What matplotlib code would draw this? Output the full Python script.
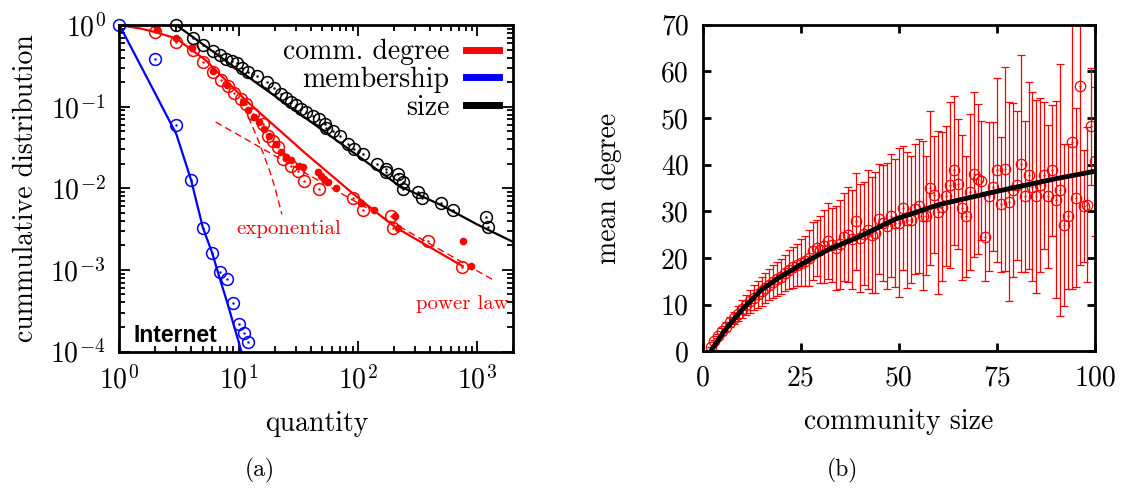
import numpy as np
import matplotlib
matplotlib.use('Agg')
import matplotlib.pyplot as plt
from matplotlib.lines import Line2D

plt.rcParams['font.family'] = ['cmr10', 'DejaVu Serif']
plt.rcParams['mathtext.fontset'] = 'cm'
plt.rcParams['axes.unicode_minus'] = False

# ---- panel (a): cumulative distributions (Internet) ----
memb_x = [1, 2, 3, 4, 5, 6, 7, 8, 9, 10, 11, 12]
memb_y = [1, 0.38, 0.059, 0.0126, 0.0033, 0.0016, 0.00094, 0.00078, 0.00039, 0.00022, 0.00017, 0.00013]
memb_fit_x = [1, 2, 3, 4, 5, 6, 7, 8, 9, 10, 10.5]
memb_fit_y = [1, 0.144, 0.046, 0.0124, 0.0033, 0.0016, 0.00075, 0.0004, 0.00022, 0.00013, 0.0001]

size_x = [3, 4.1, 5.06, 6.06, 7, 7.8, 8.8, 9.6, 10.7, 12, 14.2, 17.3, 19.9, 22.6, 25, 27.5,
          30.3, 33.3, 36.7, 41.7, 47.5, 53.3, 54, 62, 70.8, 82, 93, 110, 144, 170, 172, 215,
          222, 237, 240, 316, 344, 497, 622, 1186, 1223]
size_y = [1.0, 0.70, 0.57, 0.48, 0.43, 0.39, 0.36, 0.34, 0.30, 0.27, 0.235, 0.203, 0.171, 0.144,
          0.129, 0.114, 0.104, 0.094, 0.086, 0.078, 0.071, 0.062, 0.055, 0.05, 0.044, 0.035, 0.030,
          0.026, 0.020, 0.0173, 0.0157, 0.015, 0.013, 0.0118, 0.0098, 0.0089, 0.0077, 0.0067,
          0.0055, 0.0045, 0.0034]
size_fit_x = [3, 10, 30, 100, 222, 500, 1000, 2000]
size_fit_y = [1.0, 0.28, 0.089, 0.025, 0.0107, 0.0062, 0.0036, 0.0022]

deg_x = [1, 2, 3, 4.1, 5.06, 6.06, 7.1, 8.1, 9.2, 10.5, 11.5, 13.1, 15.9, 17.5, 19.3, 21.2,
         23.4, 27.5, 31.2, 35.5, 47.5, 90, 110, 189, 195, 384, 745]
deg_y = [1, 0.83, 0.62, 0.49, 0.354, 0.267, 0.21, 0.178, 0.147, 0.125, 0.107, 0.082, 0.062,
         0.044, 0.0385, 0.032, 0.0229, 0.0189, 0.0164, 0.0124, 0.0098, 0.0077, 0.0055, 0.0046,
         0.0033, 0.00226, 0.00108]
deg2_x = [2.05, 3, 4.07, 6.06, 7.9, 10.8, 11.9, 13.3, 14.9, 16.4, 18.1, 20.6, 22.6, 25, 27.5,
          32.3, 34.4, 45.9, 49, 52.3, 55.7, 65.5, 106, 137, 206, 215, 755, 887]
deg2_y = [0.885, 0.70, 0.52, 0.275, 0.183, 0.114, 0.09, 0.074, 0.065, 0.054, 0.044, 0.035,
          0.0276, 0.024, 0.022, 0.0189, 0.0184, 0.0157, 0.0143, 0.013, 0.0118, 0.01, 0.0067,
          0.0055, 0.0046, 0.0033, 0.00226, 0.00111]
deg_fit_x = [1, 1.5, 2, 3, 5.3, 11.5, 36.7, 90, 161, 208, 400, 755]
deg_fit_y = [1, 0.91, 0.82, 0.686, 0.37, 0.119, 0.0264, 0.0087, 0.0044, 0.0033, 0.0019, 0.00111]

pow_x = [6.4, 1346]
pow_y = [0.065, 0.00076]
exp_x = [12, 14, 16, 18, 20, 23]
exp_y = [0.075, 0.045, 0.027, 0.017, 0.0105, 0.0048]

# ---- panel (b): mean degree vs community size ----
comm_size = list(range(2, 101))
mean_deg = [1.0, 2.2, 3.3, 4.3, 5.3, 6.3, 7.2, 8.1, 9.0, 9.9, 10.7, 11.5, 12.2, 12.9, 13.6,
            14.3, 14.9, 15.5, 16.0, 16.8, 17.5, 18.0, 18.5, 19.0, 19.3, 20.0, 21.5, 22.2, 21.8,
            22.5, 23.6, 22.8, 22.2, 22.9, 24.5, 25.0, 24.0, 27.9, 24.3, 25.2, 26.1, 25.0, 25.4,
            28.4, 27.5, 26.8, 29.1, 27.5, 27.6, 30.7, 28.2, 28.2, 30.5, 31.1, 29.1, 29.1, 35.0,
            33.6, 29.8, 31.0, 33.2, 35.7, 38.8, 35.9, 30.8, 28.9, 34.2, 37.9, 37.0, 36.6, 24.6,
            33.2, 35.3, 38.8, 31.5, 39.1, 32.1, 34.6, 35.6, 40.2, 33.2, 37.7, 35.3, 33.2, 35.6,
            37.7, 33.2, 38.8, 32.5, 34.6, 27.1, 28.9, 44.8, 32.9, 56.8, 31.2, 31.4, 48.2, 40.7]
std_deg = [0, 0.3, 0.5, 0.7, 0.9, 1.1, 1.3, 1.6, 1.9, 2.2, 2.5, 2.7, 2.9, 3.1, 3.2, 3.4, 3.5,
           3.6, 3.8, 3.9, 4.2, 4.4, 4.6, 5.0, 5.4, 6.0, 6.3, 6.0, 7.2, 7.8, 8.2, 8.0, 9.0, 9.5,
           9.4, 10.2, 10.6, 10.4, 11.6, 11.0, 12.8, 12.4, 13.0, 11.8, 12.4, 13.5, 13.1, 13.8,
           16.0, 13.3, 14.6, 13.6, 14.0, 14.3, 16.0, 12.8, 16.4, 12.5, 17.5, 16.0, 15.0, 17.8,
           16.0, 13.9, 15.6, 13.0, 16.7, 17.7, 16.1, 12.7, 9.5, 15.9, 13.9, 19.7, 14.5, 21.8,
           21.4, 18.7, 16.0, 23.3, 16.2, 20.0, 20.3, 20.7, 18.6, 15.7, 15.4, 14.0, 21.1, 27.0,
           17.4, 15.5, 31.4, 19.2, 38.2, 12.0, 16.6, 12.5, 16.0]
fit_b_x = [2.0, 5, 6.5, 10, 15, 19.3, 25, 32, 40, 49, 60, 75, 90, 100]
fit_b_y = [0, 3.7, 5.4, 8.9, 13.2, 15.7, 18.6, 21.8, 24.6, 28.3, 31.4, 34.3, 37.0, 38.6]

fig = plt.figure(figsize=(11.25, 4.93), dpi=100)
ax1 = fig.add_axes([0.1062, 0.287, 0.350, 0.662])
ax2 = fig.add_axes([0.6246, 0.2873, 0.349, 0.6627])

RED, BLUE = '#ff0000', '#0000ff'
ms_c = 8.5

# fitted / guide lines
ax1.plot(deg_fit_x, deg_fit_y, color=RED, lw=1.6)
ax1.plot(memb_fit_x, memb_fit_y, color=BLUE, lw=1.6)
ax1.plot(size_fit_x, size_fit_y, color='k', lw=1.6)
ax1.plot(pow_x, pow_y, color=RED, lw=1.0, ls=(0, (5, 3)))
ax1.plot(exp_x, exp_y, color=RED, lw=1.0, ls=(0, (5, 3)))

# data points (circles with a dot in the middle)
ax1.plot(deg_x, deg_y, 'o', mfc='none', mec=RED, ms=ms_c, mew=1.1)
ax1.plot(deg_x, deg_y, '.', color=RED, ms=1.5)
ax1.plot(deg2_x, deg2_y, 'o', color=RED, ms=4.5)
ax1.plot(memb_x, memb_y, 'o', mfc='none', mec=BLUE, ms=ms_c, mew=1.1, clip_on=False)
ax1.plot(memb_x, memb_y, '.', color=BLUE, ms=1.5)
ax1.plot(size_x, size_y, 'o', mfc='none', mec='k', ms=ms_c, mew=1.1, clip_on=False)
ax1.plot(size_x, size_y, '.', color='k', ms=1.5)

ax1.set_xscale('log')
ax1.set_yscale('log')
ax1.set_xlim(1, 2000)
ax1.set_ylim(1e-4, 1)
ax1.set_xticks([1, 10, 100, 1000])
ax1.set_xticklabels(['$10^{0}$', '$10^{1}$', '$10^{2}$', '$10^{3}$'])
ax1.set_yticks([1e-4, 1e-3, 1e-2, 1e-1, 1])
ax1.set_yticklabels(['$10^{-4}$', '$10^{-3}$', '$10^{-2}$', '$10^{-1}$', '$10^{0}$'])
ax1.tick_params(which='both', direction='in', top=True, right=True, labelsize=20, width=1.3)
ax1.tick_params(which='major', length=8)
ax1.tick_params(which='minor', length=4)
ax1.tick_params(axis='x', which='major', pad=10)
ax1.tick_params(axis='y', which='major', pad=10)
ax1.set_xlabel('quantity', fontsize=20, labelpad=12)
ax1.set_ylabel('cummulative distribution', fontsize=20, labelpad=8)

handles = [Line2D([], [], color=RED, lw=5), Line2D([], [], color=BLUE, lw=5),
           Line2D([], [], color='k', lw=5)]
ax1.legend(handles, ['comm. degree', 'membership', 'size'], loc='upper right',
           frameon=False, markerfirst=False, fontsize=20, handlelength=1.2,
           handletextpad=0.6, borderaxespad=0.3, labelspacing=0.05, borderpad=0.2)

ax1.text(0.43, 0.375, 'exponential', color=RED, fontsize=15, ha='center', va='center',
         transform=ax1.transAxes)
ax1.text(0.87, 0.145, 'power law', color=RED, fontsize=15, ha='center', va='center',
         transform=ax1.transAxes)
ax1.text(0.035, 0.05, 'Internet', fontsize=16.5, fontweight='bold',
         family=['Liberation Sans', 'DejaVu Sans'], ha='left', va='center',
         transform=ax1.transAxes)

# panel b
ax2.errorbar(comm_size, mean_deg, yerr=std_deg, fmt='none', ecolor=RED, elinewidth=0.9,
             capsize=3, capthick=0.9)
ax2.plot(comm_size, mean_deg, 'o', mfc='none', mec=RED, ms=7.5, mew=0.9)
ax2.plot(comm_size, mean_deg, '.', color=RED, ms=1.2)
ax2.plot(fit_b_x, fit_b_y, color='k', lw=3.5)
ax2.set_xlim(0, 100)
ax2.set_ylim(0, 70)
ax2.set_xticks([0, 25, 50, 75, 100])
ax2.set_yticks(range(0, 71, 10))
ax2.tick_params(direction='in', top=True, right=True, labelsize=20, width=2, length=6)
ax2.tick_params(axis='x', pad=10)
ax2.tick_params(axis='y', pad=10)
ax2.set_xlabel('community size', fontsize=20, labelpad=12)
ax2.set_ylabel('mean degree', fontsize=20, labelpad=28)

for ax in (ax1, ax2):
    for s in ax.spines.values():
        s.set_linewidth(2)

fig.text(260 / 1125, 1 - 470 / 493, '(a)', fontsize=17, ha='center', va='center')
fig.text(842 / 1125, 1 - 470 / 493, '(b)', fontsize=17, ha='center', va='center')

fig.savefig('out.png', dpi=100)
